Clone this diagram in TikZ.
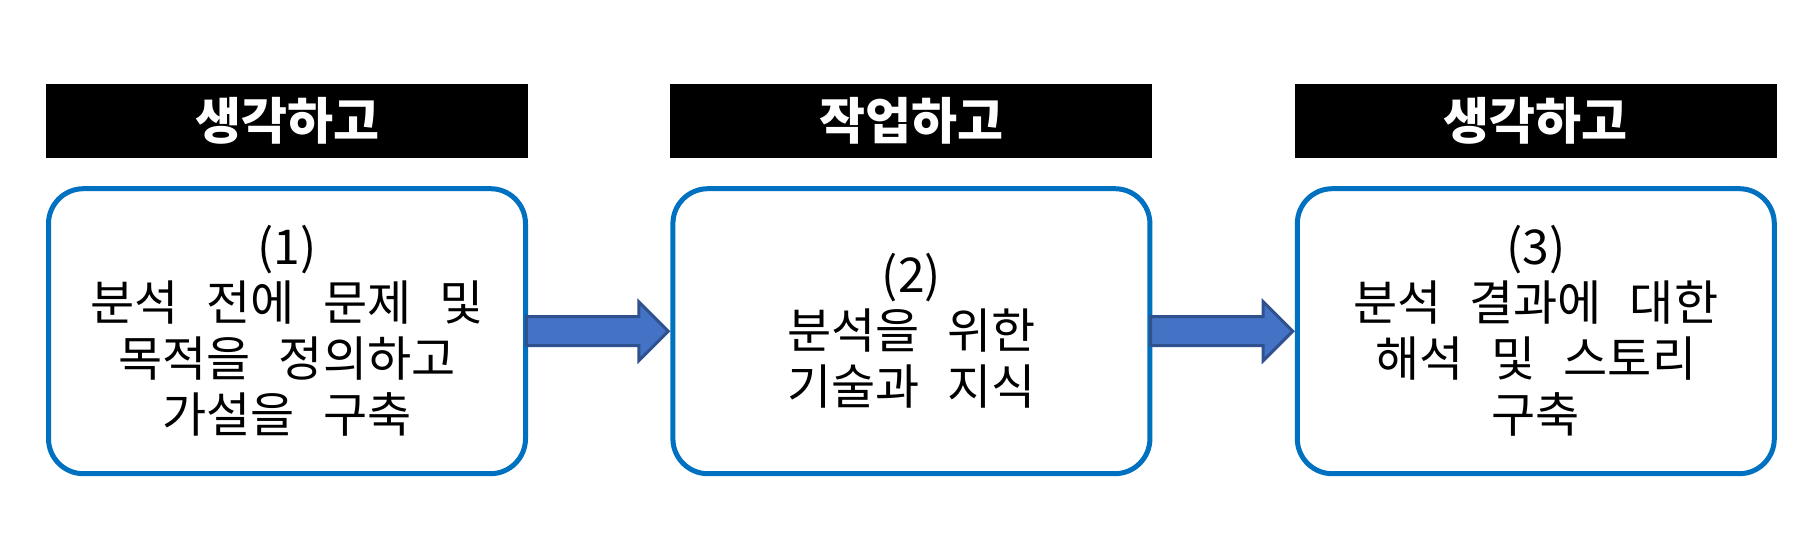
\documentclass[tikz,border=0pt]{standalone}
\usepackage{fontspec}
\newfontfamily\krfont{Noto Sans CJK KR}[WordSpace=2.6]
\usetikzlibrary{shapes.arrows, positioning, calc}
\definecolor{stageblue}{HTML}{0070C0}
\definecolor{arrowfill}{HTML}{4472C4}
\definecolor{arrowline}{HTML}{2F528F}

\begin{document}
\begin{tikzpicture}[
    x=1pt, y=-1pt,
    node distance=28pt and 142pt,
    head/.style={fill=black, text=white, minimum width=482pt, minimum height=74pt,
                 inner sep=0pt, font=\krfont\bfseries\fontsize{50}{60}\selectfont},
    stage/.style={draw=stageblue, line width=5pt, rounded corners=35pt, fill=white,
                  minimum width=477pt, minimum height=285pt, align=center,
                  inner sep=0pt, font=\krfont\fontsize{48}{56}\selectfont},
    flow/.style={single arrow, draw=arrowline, fill=arrowfill, line width=3pt,
                 minimum width=56pt, minimum height=142pt, inner xsep=0pt,
                 inner ysep=13pt, single arrow head extend=15pt, anchor=tip}
]
\useasboundingbox (0,0) rectangle (1820,548);

% headers
\node[head]                 (h1) at (287,121) {생각하고};
\node[head, right=of h1]    (h2) {작업하고};
\node[head, right=of h2]    (h3) {생각하고};

% stages
\node[stage, below=of h1]   (s1) {(1)\\분석 전에 문제 및\\목적을 정의하고\\가설을 구축};
\node[stage, below=of h2]   (s2) {(2)\\분석을 위한\\기술과 지식};
\node[stage, below=of h3]   (s3) {(3)\\분석 결과에 대한\\해석 및 스토리\\구축};

\foreach \a/\b in {s1/s2, s2/s3}
  \node[flow] (\a-\b) at (\b.west) {};
\end{tikzpicture}
\end{document}
